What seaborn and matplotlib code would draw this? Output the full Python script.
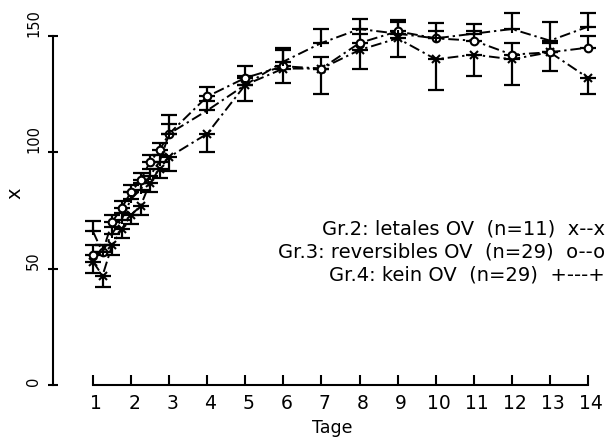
import numpy as np
import pandas as pd
import matplotlib
matplotlib.use("Agg")
import matplotlib.pyplot as plt
import matplotlib.transforms as mtransforms
import seaborn as sns

# ---- data ----
days = [1, 1.25, 1.5, 1.75, 2, 2.25, 2.5, 2.75, 3, 4, 5, 6, 7, 8, 9, 10, 11, 12, 13, 14]
gr2 = [53, 47, 60, 67, 73, 77, 87, 93, 98, 108, 129, 136, 136, 144, 149, 140, 142, 140, 143, 132]
gr2_err = [5, 5, 4, 4, 4, 4, 4, 4, 6, 8, 7, 6, 11, 8, 8, 13, 9, 11, 8, 7]      # drawn downward
gr3 = [56, 57, 70, 76, 83, 88, 96, 101, 108, 124, 132, 137, 136, 147, 152, 149, 148, 142, 143, 145]
gr3_err = [4, 3, 3, 3, 3, 3, 3, 3, 8, 4, 5, 7, 5, 4, 4, 3, 4, 5, 4, 5]          # drawn upward
gr4 = [66, 57, 65, 71, 80, 84, 90, 96, 108, 118, 129, 139, 147, 153, 151, 149, 151, 153, 148, 154]
gr4_err = [4.5, 3, 3, 3, 3, 3, 3, 3, 4, 4, 4, 6, 6, 4.5, 6, 6.5, 4, 7, 8, 6]    # drawn upward

x_ticks = list(range(1, 15))
y_ticks = [0, 50, 100, 150]
legend_lines = ["Gr.2: letales OV  (n=11)  x--x",
                "Gr.3: reversibles OV  (n=29)  o--o",
                "Gr.4: kein OV  (n=29)  +---+"]
x_label = "Tage"
y_label = "x"

sns.set_style("white")
plt.rcParams["font.family"] = ["DejaVu Sans"]
plt.rcParams["text.color"] = "black"
plt.rcParams["xtick.color"] = "black"
plt.rcParams["ytick.color"] = "black"

W, H = 606, 439
fig = plt.figure(figsize=(W / 100, H / 100), dpi=100)
ax = fig.add_axes([0, 0, 1, 1])
ax.patch.set_alpha(0)

# pixel geometry of reference
px_day1, px_day14 = 93, 588
py0, py150 = 386, 37
sx = (px_day14 - px_day1) / 13.0
sy = (py0 - py150) / 150.0
ax.set_xlim(1 - px_day1 / sx, 14 + (W - px_day14) / sx)
ax.set_ylim((py0 - H) / sy, py0 / sy)

dash_dot = (0, (5.5, 2, 1.2, 2))
lw = 1.4
series = [
    (gr2, gr2_err, "x", "down"),
    (gr3, gr3_err, "o", "up"),
    (gr4, gr4_err, "+", "up"),
]
for vals, err, mk, direction in series:
    sns.lineplot(x=days, y=vals, ax=ax, color="black", linewidth=lw,
                 linestyle=dash_dot, marker=mk, markersize=5.5,
                 markeredgewidth=1.5, markeredgecolor="black",
                 markerfacecolor="white", legend=False, zorder=3)
    zeros = [0] * len(err)
    yerr = [err, zeros] if direction == "down" else [zeros, err]
    ax.errorbar(days, vals, yerr=yerr, fmt="none", ecolor="black",
                elinewidth=1.6, capsize=6, capthick=1.6, zorder=2)

# axes styling
for s in ["top", "right"]:
    ax.spines[s].set_visible(False)
ax.spines["left"].set_position(("data", 1 + (53 - px_day1) / sx))
ax.spines["left"].set_bounds(0, 150)
ax.spines["bottom"].set_position(("data", 0))
ax.spines["bottom"].set_bounds(1, 14)
for s in ["left", "bottom"]:
    ax.spines[s].set_linewidth(1.5)
    ax.spines[s].set_color("black")

ax.set_xticks(x_ticks)
ax.set_xticklabels([str(t) for t in x_ticks])
ax.set_yticks(y_ticks)
ax.set_yticklabels([str(t) for t in y_ticks])
ax.tick_params(axis="x", bottom=True, direction="in", length=7.5, width=1.5,
               pad=6, labelsize=13.5, colors="black")
ax.tick_params(axis="y", left=True, direction="inout", length=7, width=1.5,
               pad=5, labelsize=10.5, colors="black")
shift = mtransforms.ScaledTranslation(3 / 100, 0, fig.dpi_scale_trans)
for lab in ax.get_xticklabels():
    lab.set_transform(lab.get_transform() + shift)
for lab in ax.get_yticklabels():
    lab.set_rotation(90)
    lab.set_va("bottom")

fig.text(15 / W, 1 - 193 / H, y_label, rotation=90, ha="center", va="center",
         fontsize=14)
fig.text(332 / W, 1 - 428 / H, x_label, ha="center", va="center", fontsize=12.5)
for i, line in enumerate(legend_lines):
    fig.text(605 / W, 1 - (229 + 23 * i) / H, line, ha="right", va="center",
             fontsize=14)

fig.savefig("out.png", dpi=100)
